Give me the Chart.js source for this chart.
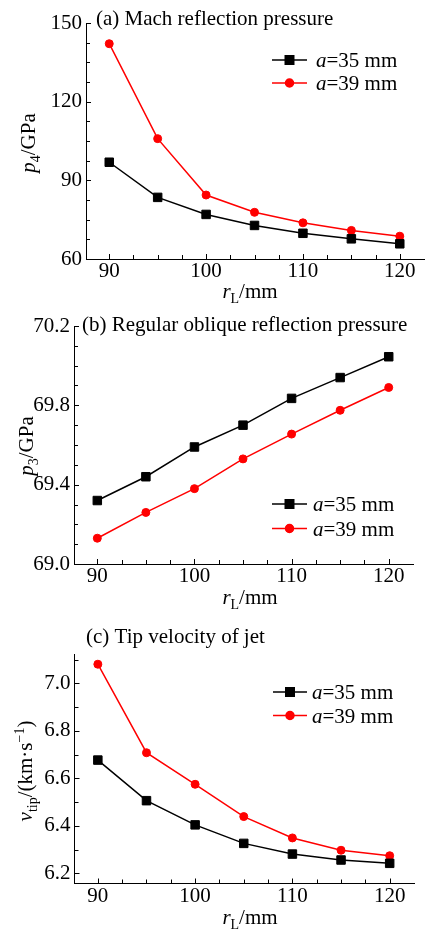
<!DOCTYPE html>
<html>
<head>
<meta charset="utf-8">
<script src="https://cdn.jsdelivr.net/npm/chart.js@4.4.0/dist/chart.umd.min.js"></script>
<style>
  body { margin: 0; background: #fff; width: 434px; height: 933px; position: relative; overflow: hidden; }
  canvas { position: absolute; left: 0; }
</style>
</head>
<body>
<canvas id="chartA" width="434" height="305" style="top:0px"></canvas>
<canvas id="chartB" width="434" height="310" style="top:305px"></canvas>
<canvas id="chartC" width="434" height="318" style="top:615px"></canvas>
<script>
// data
const rL = [90, 95, 100, 105, 110, 115, 120];
const p4_a35 = [96.9, 83.5, 77.0, 72.8, 69.8, 67.7, 65.8];
const p4_a39 = [142.1, 105.9, 84.4, 77.8, 73.8, 70.9, 68.7];
const p3_a35 = [69.32, 69.44, 69.59, 69.70, 69.835, 69.94, 70.045];
const p3_a39 = [69.13, 69.26, 69.38, 69.53, 69.655, 69.775, 69.89];
const vtip_a35 = [6.677, 6.506, 6.404, 6.326, 6.281, 6.256, 6.242];
const vtip_a39 = [7.081, 6.708, 6.575, 6.439, 6.349, 6.297, 6.274];

const xTicks = [90, 100, 110, 120];
const p4Ticks = [60, 90, 120, 150];
const p3Ticks = [69.0, 69.4, 69.8, 70.2];
const vTicks = [6.2, 6.4, 6.6, 6.8, 7.0];
const seriesNames = ['35 mm', '39 mm'];

const SERIF = "'Liberation Serif', 'Times New Roman', serif";
const FS = 21;
Chart.defaults.font.family = SERIF;
Chart.defaults.color = '#000';

function fontOf(p) {
  const size = (p.sub || p.sup) ? 14 : FS;
  return (p.it ? 'italic ' : '') + size + 'px ' + SERIF;
}

// draw a run of text pieces (italic / subscript / superscript)
function drawParts(ctx, parts, x, y, align) {
  let w = 0;
  parts.forEach(p => { ctx.font = fontOf(p); w += ctx.measureText(p.t).width; });
  let cx = align === 'center' ? x - w / 2 : x;
  ctx.textAlign = 'left';
  ctx.textBaseline = 'alphabetic';
  parts.forEach(p => {
    ctx.font = fontOf(p);
    const dy = p.sub ? 5 : (p.sup ? -8 : 0);
    ctx.fillText(p.t, cx, y + dy);
    cx += ctx.measureText(p.t).width;
  });
}

function decorPlugin(cfg) {
  return {
    id: 'decor',
    afterDraw(chart) {
      const { ctx, chartArea: ca, scales: { x, y } } = chart;
      ctx.save();
      ctx.strokeStyle = '#000';
      ctx.lineWidth = 1;
      ctx.beginPath();
      // inward ticks on x
      for (let i = 0; ; i++) {
        const v = 90 + i * 2.5;
        if (v > 120 + 1e-9) break;
        const px = Math.round(x.getPixelForValue(v)) + 0.5;
        const len = xTicks.includes(v) ? 5 : 4;
        ctx.moveTo(px, ca.bottom);
        ctx.lineTo(px, ca.bottom - len);
      }
      // inward ticks on y
      for (let i = 0; ; i++) {
        const v = +(cfg.yStart + i * cfg.yStep).toFixed(4);
        if (v > cfg.yEnd + 1e-9) break;
        const py = Math.round(y.getPixelForValue(v)) + 0.5;
        const len = cfg.yTicks.some(t => Math.abs(t - v) < 1e-6) ? 5 : 4;
        ctx.moveTo(ca.left, py);
        ctx.lineTo(ca.left + len, py);
      }
      ctx.stroke();

      ctx.fillStyle = '#000';
      // panel title
      drawParts(ctx, [{ t: cfg.title }], cfg.titleX, cfg.titleY, 'left');
      // x axis title
      drawParts(ctx, [{ t: 'r', it: 1 }, { t: 'L', sub: 1 }, { t: '/mm' }], 250, cfg.xTitleY, 'center');
      // y axis title, rotated
      ctx.save();
      ctx.translate(cfg.yTitleX, cfg.yTitleY);
      ctx.rotate(-Math.PI / 2);
      drawParts(ctx, cfg.yTitle, 0, 0, 'center');
      ctx.restore();

      // legend: line + marker + label
      chart.data.datasets.forEach((ds, i) => {
        const cy = cfg.legY + i * cfg.legDy;
        ctx.strokeStyle = ds.borderColor;
        ctx.lineWidth = 1.5;
        ctx.beginPath();
        ctx.moveTo(cfg.legX0, cy);
        ctx.lineTo(cfg.legX1, cy);
        ctx.stroke();
        ctx.fillStyle = ds.backgroundColor;
        Chart.helpers.drawPoint(ctx, {
          pointStyle: ds.pointStyle, radius: ds.pointRadius, rotation: 0, borderWidth: 1
        }, (cfg.legX0 + cfg.legX1) / 2, cy);
        ctx.fill();
        ctx.fillStyle = '#000';
        drawParts(ctx, [{ t: 'a', it: 1 }, { t: '=' + seriesNames[i] }], cfg.legTextX, cy + 7, 'left');
      });
      ctx.restore();
    }
  };
}

function makeChart(id, cfg) {
  const tickFont = { family: SERIF, size: FS, lineHeight: 1 };
  return new Chart(document.getElementById(id), {
    type: 'line',
    data: {
      datasets: [
        {
          label: 'a=35 mm',
          data: rL.map((r, i) => ({ x: r, y: cfg.s35[i] })),
          borderColor: '#000', backgroundColor: '#000',
          borderWidth: 1.5, pointStyle: 'rect', pointRadius: 6,
          pointBorderWidth: 1, pointBackgroundColor: '#000', pointBorderColor: '#000'
        },
        {
          label: 'a=39 mm',
          data: rL.map((r, i) => ({ x: r, y: cfg.s39[i] })),
          borderColor: '#ff0000', backgroundColor: '#ff0000',
          borderWidth: 1.5, pointStyle: 'circle', pointRadius: 4,
          pointBorderWidth: 1, pointBackgroundColor: '#ff0000', pointBorderColor: '#ff0000'
        }
      ]
    },
    options: {
      responsive: false,
      animation: false,
      events: [],
      layout: { padding: { top: cfg.top, right: 434 - cfg.right, left: 0, bottom: 0 } },
      plugins: { legend: { display: false }, tooltip: { enabled: false } },
      scales: {
        x: {
          type: 'linear', min: 87.6, max: 122.5,
          afterFit: s => { s.height = cfg.xh; },
          afterBuildTicks: s => { s.ticks = xTicks.map(v => ({ value: v })); },
          grid: { display: false, drawTicks: false },
          border: { display: true, color: '#000', width: 1 },
          ticks: { font: tickFont, color: '#000', padding: 2, maxRotation: 0, autoSkip: false }
        },
        y: {
          type: 'linear', min: cfg.yMin, max: cfg.yMax,
          afterFit: s => { s.width = cfg.left; },
          afterBuildTicks: s => { s.ticks = cfg.yTicks.map(v => ({ value: v })); },
          grid: { display: false, drawTicks: false },
          border: { display: true, color: '#000', width: 1 },
          ticks: {
            font: tickFont, color: '#000', padding: 4, autoSkip: false,
            callback: v => v.toFixed(cfg.dec)
          }
        }
      }
    },
    plugins: [decorPlugin(cfg)]
  });
}

makeChart('chartA', {
  s35: p4_a35, s39: p4_a39, yMin: 60, yMax: 150, yTicks: p4Ticks, dec: 0,
  yStart: 60, yStep: 7.5, yEnd: 150,
  top: 23, left: 86, right: 424, xh: 46,
  title: '(a) Mach reflection pressure', titleX: 96, titleY: 25,
  xTitleY: 298, yTitleX: 35, yTitleY: 143,
  yTitle: [{ t: 'p', it: 1 }, { t: '4', sub: 1 }, { t: '/GPa' }],
  legY: 60, legDy: 23, legX0: 272, legX1: 307, legTextX: 316
});

makeChart('chartB', {
  s35: p3_a35, s39: p3_a39, yMin: 69.0, yMax: 70.2, yTicks: p3Ticks, dec: 1,
  yStart: 69.0, yStep: 0.1, yEnd: 70.2,
  top: 21, left: 74, right: 413, xh: 51,
  title: '(b) Regular oblique reflection pressure', titleX: 82, titleY: 26,
  xTitleY: 299, yTitleX: 33, yTitleY: 141,
  yTitle: [{ t: 'p', it: 1 }, { t: '3', sub: 1 }, { t: '/GPa' }],
  legY: 199, legDy: 24.5, legX0: 272, legX1: 307, legTextX: 313
});

makeChart('chartC', {
  s35: vtip_a35, s39: vtip_a39, yMin: 6.157, yMax: 7.124, yTicks: vTicks, dec: 1,
  yStart: 6.2, yStep: 0.1, yEnd: 7.1,
  top: 39, left: 74.5, right: 414, xh: 49.5,
  title: '(c) Tip velocity of jet', titleX: 86, titleY: 28,
  xTitleY: 309, yTitleX: 32, yTitleY: 156,
  yTitle: [{ t: 'v', it: 1 }, { t: 'tip', sub: 1 }, { t: '/(km·s' }, { t: '−1', sup: 1 }, { t: ')' }],
  legY: 77, legDy: 23.5, legX0: 273, legX1: 307, legTextX: 312
});
</script>
</body>
</html>
